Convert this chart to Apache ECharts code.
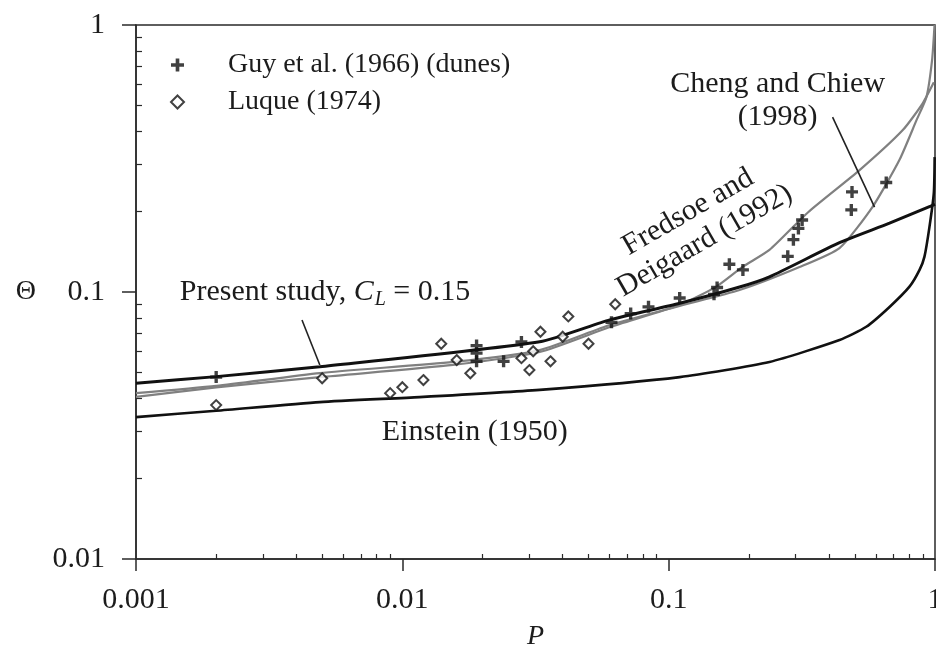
<!DOCTYPE html>
<html><head><meta charset="utf-8">
<script src="https://cdn.jsdelivr.net/npm/echarts@6/dist/echarts.min.js"></script>
<style>html,body{margin:0;padding:0;background:#fff}#c{width:936px;height:650px}</style>
</head><body><div id="c"></div>
<script>
// ---- axis ticks ----
const xMinorTicks = [0.002,0.003,0.004,0.005,0.006,0.007,0.008,0.009,0.02,0.03,0.04,0.05,0.06,0.07,0.08,0.09,0.2,0.3,0.4,0.5,0.6,0.7,0.8,0.9];
const yMinorTicks = [0.02,0.03,0.04,0.05,0.06,0.07,0.08,0.09,0.2,0.3,0.4,0.5,0.6,0.7,0.8,0.9];

// ---- curves (P, Theta) ----
const einsteinP     = [0.001, 0.002, 0.0049, 0.0116, 0.0328, 0.110, 0.239, 0.438, 0.552, 0.675, 0.802, 0.875, 0.913, 0.953, 0.99, 0.997];
const einsteinTheta = [0.0340, 0.0359, 0.0387, 0.0404, 0.0430, 0.0480, 0.0547, 0.0661, 0.0741, 0.0879, 0.1047, 0.121, 0.1357, 0.175, 0.235, 0.32];

const presentP     = [0.001, 0.002, 0.0049, 0.0328, 0.0601, 0.110, 0.1846, 0.239, 0.438, 0.675, 0.953, 1.0];
const presentTheta = [0.0455, 0.0482, 0.0525, 0.0651, 0.0786, 0.0907, 0.1044, 0.114, 0.153, 0.181, 0.209, 0.213];

const fredsoeP     = [0.001, 0.002, 0.0049, 0.0155, 0.0328, 0.0601, 0.110, 0.151, 0.19, 0.239, 0.334, 0.521, 0.757, 0.899, 0.99];
const fredsoeTheta = [0.0405, 0.0439, 0.048, 0.0533, 0.0596, 0.0739, 0.0894, 0.1047, 0.1244, 0.1437, 0.199, 0.286, 0.404, 0.509, 0.61];

const chengP     = [0.001, 0.002, 0.0049, 0.0155, 0.0328, 0.0601, 0.110, 0.1846, 0.31, 0.438, 0.582, 0.735, 0.853, 0.929, 0.975, 0.996];
const chengTheta = [0.0418, 0.0445, 0.0497, 0.0547, 0.0606, 0.0752, 0.0887, 0.1017, 0.124, 0.146, 0.208, 0.312, 0.441, 0.538, 0.739, 1.0];

// ---- data points ----
const guyP     = [0.002, 0.019, 0.019, 0.019, 0.024, 0.028, 0.061, 0.072, 0.084, 0.11, 0.148, 0.152, 0.169, 0.19, 0.28, 0.294, 0.307, 0.317, 0.485, 0.488, 0.656];
const guyTheta = [0.048, 0.063, 0.059, 0.055, 0.055, 0.065, 0.077, 0.083, 0.088, 0.095, 0.098, 0.104, 0.127, 0.121, 0.136, 0.157, 0.173, 0.186, 0.203, 0.237, 0.257];

const luqueP     = [0.002, 0.005, 0.009, 0.010, 0.012, 0.014, 0.016, 0.018, 0.028, 0.030, 0.031, 0.033, 0.036, 0.040, 0.042, 0.050, 0.063];
const luqueTheta = [0.0377, 0.0475, 0.0418, 0.044, 0.0468, 0.064, 0.0556, 0.0496, 0.0565, 0.051, 0.060, 0.071, 0.055, 0.068, 0.081, 0.064, 0.090];

// ---- annotation anchors (data space) ----
const annoTexts = ['Cheng and Chiew\n(1998)', 'Fredsoe and\nDeigaard (1992)', 'Einstein (1950)'];
const annoP     = [0.2565, 0.127, 0.0187];
const annoTheta = [0.519, 0.176, 0.0299];
const annoRot   = [0, 30, 0];
const presentLabelAt = [0.00146, 0.1];
const pointerFromP = [0.4125, 0.0042], pointerFromT = [0.452, 0.0785];
const pointerToP   = [0.593, 0.0049],  pointerToT   = [0.208, 0.0533];

const zip = (a, b) => a.map((v, i) => [v, b[i]]);
const FONT = 'Liberation Serif';
const INK = '#1c1c1c';
const plusPath = 'path://M3.6,0H6.4V3.6H10V6.4H6.4V10H3.6V6.4H0V3.6H3.6Z';

const chart = echarts.init(document.getElementById('c'), null, {renderer: 'canvas'});
chart.setOption({
  animation: false,
  backgroundColor: '#fff',
  grid: {left: 136, right: 1, top: 25, bottom: 91, show: true, borderColor: '#2a2a2a', borderWidth: 1.5,
         containLabel: false, outerBoundsMode: 'none'},
  legend: {
    data: [{name: 'Guy et al. (1966) (dunes)', icon: plusPath}, {name: 'Luque (1974)'}],
    orient: 'vertical', left: 165, top: 46, itemWidth: 13, itemHeight: 13, itemGap: 9,
    textStyle: {fontFamily: FONT, fontSize: 28, color: INK, padding: [0, 0, 0, 39]}
  },
  xAxis: [
    {type: 'log', logBase: 10, min: 0.001, max: 1, position: 'bottom',
     name: 'P', nameLocation: 'middle', nameGap: 64, nameMoveOverlap: false,
     nameTextStyle: {fontFamily: FONT, fontSize: 28, fontStyle: 'italic', color: INK},
     axisLine: {onZero: false, lineStyle: {color: '#2a2a2a', width: 1.5}},
     axisTick: {inside: false, length: 12, lineStyle: {color: '#2a2a2a', width: 1.5}},
     axisLabel: {fontFamily: FONT, fontSize: 30, color: INK, margin: 26},
     splitLine: {show: false}},
    {type: 'value', min: -3, max: 0, position: 'bottom', gridIndex: 0,
     axisLine: {show: false, onZero: false}, axisLabel: {show: false}, splitLine: {show: false},
     axisTick: {show: true, inside: true, length: 5, customValues: xMinorTicks.map(v => Math.log10(v)), lineStyle: {color: '#2a2a2a', width: 1.2}}}
  ],
  yAxis: [
    {type: 'log', logBase: 10, min: 0.01, max: 1, position: 'left',
     name: 'Θ', nameLocation: 'middle', nameRotate: 0, nameGap: 100, nameMoveOverlap: false,
     nameTextStyle: {fontFamily: FONT, fontSize: 28, color: INK},
     axisLine: {onZero: false, lineStyle: {color: '#2a2a2a', width: 1.5}},
     axisTick: {inside: false, length: 14, lineStyle: {color: '#2a2a2a', width: 1.5}},
     axisLabel: {fontFamily: FONT, fontSize: 30, color: INK, margin: 31},
     splitLine: {show: false}},
    {type: 'value', min: -2, max: 0, position: 'left', gridIndex: 0,
     axisLine: {show: false, onZero: false}, axisLabel: {show: false}, splitLine: {show: false},
     axisTick: {show: true, inside: true, length: 6, customValues: yMinorTicks.map(v => Math.log10(v)), lineStyle: {color: '#2a2a2a', width: 1.2}}}
  ],
  series: [
    {name: 'Einstein (1950)', type: 'line', data: zip(einsteinP, einsteinTheta), smooth: 0.2, symbol: 'none', clip: true,
     lineStyle: {color: '#111', width: 2.6}, z: 3},
    {name: 'Fredsoe and Deigaard (1992)', type: 'line', data: zip(fredsoeP, fredsoeTheta), smooth: 0.2, symbol: 'none', clip: true,
     lineStyle: {color: '#808080', width: 2.2}, z: 2},
    {name: 'Cheng and Chiew (1998)', type: 'line', data: zip(chengP, chengTheta), smooth: 0.2, symbol: 'none', clip: true,
     lineStyle: {color: '#808080', width: 2.2}, z: 2},
    {name: 'Present study', type: 'line', data: zip(presentP, presentTheta), smooth: 0.2, symbol: 'none', clip: true,
     lineStyle: {color: '#111', width: 3}, z: 3},
    {name: 'Guy et al. (1966) (dunes)', type: 'scatter', data: zip(guyP, guyTheta), symbol: plusPath, symbolSize: 12,
     itemStyle: {color: '#111'}, z: 5},
    {name: 'Luque (1974)', type: 'scatter', data: zip(luqueP, luqueTheta), symbol: 'emptyDiamond', symbolSize: 10,
     itemStyle: {color: '#111', borderWidth: 2}, z: 5}
  ]
});

const px = (p, t) => chart.convertToPixel({xAxisIndex: 0, yAxisIndex: 0}, [p, t]);
const graphics = [];
annoTexts.forEach((txt, i) => {
  const pt = px(annoP[i], annoTheta[i]);
  graphics.push({type: 'text', x: pt[0], y: pt[1], rotation: annoRot[i] * Math.PI / 180, z: 10,
    style: {text: txt, fontFamily: FONT, fontSize: 30, fill: INK, align: 'center', verticalAlign: 'middle', lineHeight: 33}});
});
const pl = px(presentLabelAt[0], presentLabelAt[1]);
graphics.push({type: 'text', x: pl[0], y: pl[1], z: 10,
  style: {text: '{a|Present study, }{c|C}{s|L}{a| = 0.15}', align: 'left', verticalAlign: 'middle',
    rich: {
      a: {fontFamily: FONT, fontSize: 30, fill: INK, color: INK},
      c: {fontFamily: FONT, fontSize: 30, fontStyle: 'italic', fill: INK, color: INK},
      s: {fontFamily: FONT, fontSize: 20, fontStyle: 'italic', fill: INK, color: INK, padding: [16, 0, 0, 1]}
    }}});
pointerFromP.forEach((p, i) => {
  const a = px(p, pointerFromT[i]);
  const b = px(pointerToP[i], pointerToT[i]);
  graphics.push({type: 'line', z: 10, shape: {x1: a[0], y1: a[1], x2: b[0], y2: b[1]}, style: {stroke: '#222', lineWidth: 1.6}});
});
chart.setOption({graphic: graphics});
</script>
</body></html>
